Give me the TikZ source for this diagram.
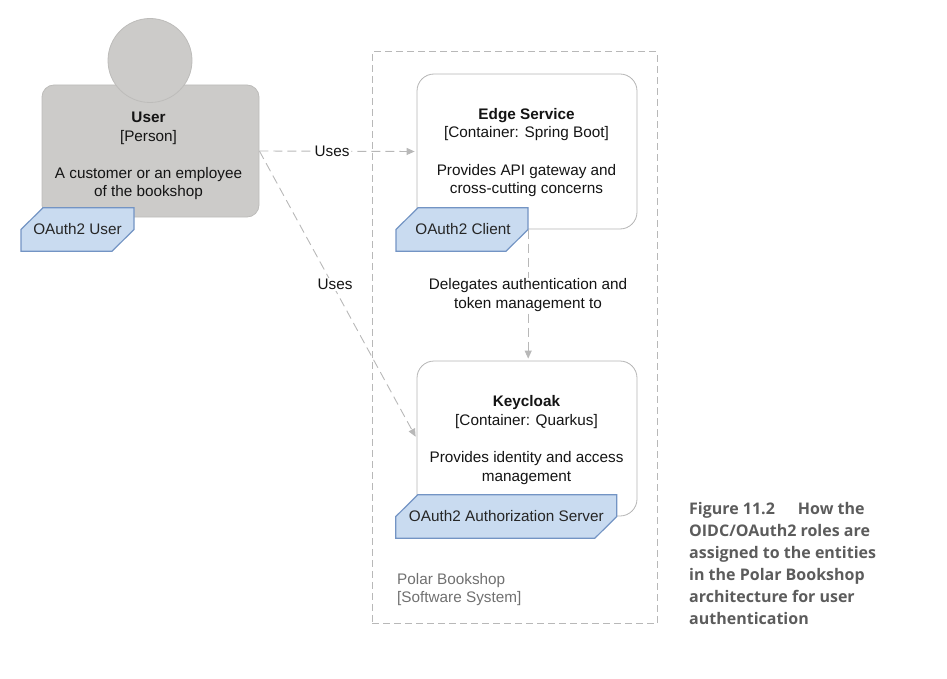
\documentclass[tikz,border=0pt]{standalone}
\usepackage{fontspec}
\setmainfont{Liberation Sans}
\newfontfamily\capfont{Open Sans}
\usetikzlibrary{arrows.meta}
\definecolor{persongrey}{HTML}{CCCBC9}
\definecolor{personedge}{HTML}{BDBCBA}
\definecolor{tagfill}{HTML}{C9DBF0}
\definecolor{tagedge}{HTML}{7394C4}
\definecolor{boxedge}{HTML}{B5B5B5}
\definecolor{linegrey}{HTML}{B8B8B8}
\definecolor{captiongrey}{HTML}{5C5C5C}
\definecolor{sysgrey}{HTML}{707070}
\tikzset{
  x=1pt,y=-1pt,
  bodytext/.style={font=\fontsize{15.3}{18.6}\selectfont,align=center,text=black!92,inner sep=0pt},
  personbox/.style={draw=personedge,fill=persongrey,rounded corners=12pt,minimum width=217pt,minimum height=132pt,inner sep=0pt,line width=0.8pt},
  headcircle/.style={circle,draw=personedge,fill=persongrey,minimum size=84pt,inner sep=0pt,line width=0.8pt},
  containerbox/.style={draw=boxedge,fill=white,rounded corners=17pt,minimum width=220pt,minimum height=155pt,inner sep=0pt,line width=0.8pt},
  tagshape/.style={draw=tagedge,fill=tagfill,line width=1.2pt},
  roletag/.style={minimum height=43.5pt,inner sep=0pt,font=\fontsize{15.3}{18}\selectfont,text=black!85},
  sysframe/.style={draw=linegrey,dash pattern=on 7pt off 4pt,line width=1pt,minimum width=285pt,minimum height=572pt,inner sep=0pt},
  relation/.style={draw=linegrey,dash pattern=on 9pt off 5pt,line width=0.9pt,-{Triangle[length=8pt,width=7pt,fill=linegrey]},shorten >=2pt},
  rellabel/.style={bodytext,fill=white,inner xsep=1.5pt,inner ysep=1pt},
  capstyle/.style={font=\capfont\bfseries\fontsize{16}{22}\selectfont,text=captiongrey,align=left,inner sep=0pt,anchor=north west},
}
\newcommand{\roletagnode}[5]{%
  \draw[tagshape] (#2-#4/2+22,#3-21.75) -- (#2+#4/2,#3-21.75) -- (#2+#4/2,#3) -- (#2+#4/2-22,#3+21.75) -- (#2-#4/2,#3+21.75) -- (#2-#4/2,#3) -- cycle;
  \node[roletag,minimum width=#4 pt] (#1) at (#2,#3) {\raisebox{2pt}{#5}};
}
\begin{document}
\begin{tikzpicture}
\useasboundingbox (0,0) rectangle (947,679);
\node[sysframe] (system) at (514.5,337.8) {};
\node[personbox] (user) at (150.5,151) {};
\node[headcircle] (head) at (150,60.5) {};
\node[bodytext] (usertext) at (148.5,156) {\textbf{User}\\{}[Person]\\[18.6pt]A customer or an employee\\of the bookshop};
\roletagnode{usertag}{77.5}{229.5}{113}{OAuth2 User}
\node[containerbox] (edge) at (527,151.5) {};
\node[bodytext] (edgetext) at (526.5,152.5) {\textbf{Edge Service}\\{}[Container: Spring Boot]\\[18.6pt]Provides API gateway and\\cross-cutting concerns};
\roletagnode{edgetag}{462}{229.5}{132}{\hspace{2pt}OAuth2 Client}
\node[containerbox] (keycloak) at (527,438.5) {};
\node[bodytext] (keytext) at (526.5,440) {\textbf{Keycloak}\\{}[Container: Quarkus]\\[18.6pt]Provides identity and access\\management};
\roletagnode{keytag}{506.3}{516.5}{221}{OAuth2 Authorization Server}
\node[bodytext,align=left,anchor=north west,text=sysgrey] (systext) at (397,573) {Polar Bookshop\\{}[Software System]};
\draw[relation] (user.east) -- (edge.west);
\draw[relation] (user.east) -- (keycloak.west);
\draw[relation] (edgetag.east) -- (keycloak.north -| edgetag.east);
\node[rellabel] (uses1) at (332,151.5) {Uses};
\node[rellabel] (uses2) at (335,284.5) {Uses};
\node[rellabel] (deleg) at (528,295) {Delegates authentication and\\token management to};
\node[capstyle] (caption) at (689,502.5) {Figure 11.2\hspace{23pt}How the\\OIDC/OAuth2 roles are\\assigned to the entities\\in the Polar Bookshop\\architecture for user\\authentication};
\end{tikzpicture}
\end{document}
